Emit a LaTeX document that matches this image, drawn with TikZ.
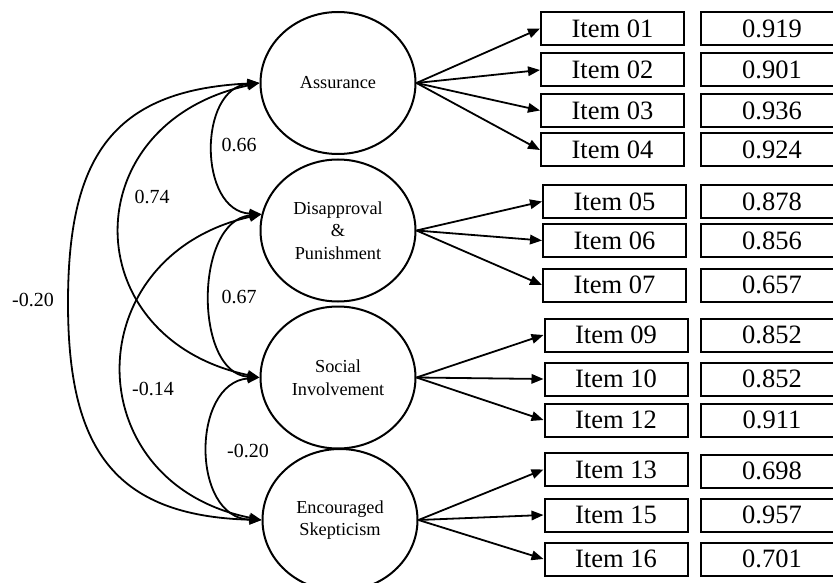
\documentclass[tikz,border=0pt]{standalone}
\usepackage{fontspec}
\setmainfont{Liberation Serif}
\usetikzlibrary{arrows.meta,shapes.geometric}
\begin{document}
\begin{tikzpicture}[x=1pt,y=-1pt,
  lat/.style={ellipse,draw,line width=2pt,minimum width=155pt,minimum height=142pt,inner sep=0pt,align=center,font=\fontsize{18.3}{22.5}\selectfont},
  itembox/.style={draw,line width=2pt,minimum width=143pt,minimum height=33pt,inner sep=0pt,font=\fontsize{26.5}{30}\selectfont},
  valbox/.style={itembox,minimum width=142pt},
  bigtri/.tip={Triangle[length=12pt,width=9.5pt]},
  cor/.style={line width=1.8pt,bigtri-bigtri},
  load/.style={line width=1.8pt,-bigtri},
  lab/.style={font=\fontsize{20}{24}\selectfont,inner sep=0pt}]
\path[use as bounding box] (0,0) rectangle (833,583);
\clip (0,0) rectangle (833,583);

% latent variables
\node[lat] (ass) at (338,83) {Assurance};
\node[lat] (dis) at (338,230.5) {Disapproval\\\&\\Punishment};
\node[lat] (soc) at (338,377.5) {Social\\Involvement};
\node[lat] (enc) at (340,520) {Encouraged\\Skepticism};

% item boxes
\node[itembox] (i01) at (612.5,28.5) {Item 01};
\node[itembox] (i02) at (612.5,70) {Item 02};
\node[itembox] (i03) at (612.5,110.5) {Item 03};
\node[itembox] (i04) at (612.5,150) {Item 04};
\node[itembox] (i05) at (614.5,201.5) {Item 05};
\node[itembox] (i06) at (614.5,240.5) {Item 06};
\node[itembox] (i07) at (614.5,285) {Item 07};
\node[itembox] (i09) at (616,335) {Item 09};
\node[itembox] (i10) at (616,379) {Item 10};
\node[itembox] (i12) at (616,420) {Item 12};
\node[itembox] (i13) at (616,469.5) {Item 13};
\node[itembox] (i15) at (616,515) {Item 15};
\node[itembox] (i16) at (616,559) {Item 16};

% value boxes
\node[valbox] (v01) at (772,28.5) {0.919};
\node[valbox] (v02) at (772,70) {0.901};
\node[valbox] (v03) at (772,110.5) {0.936};
\node[valbox] (v04) at (772,150) {0.924};
\node[valbox] (v05) at (772,201.5) {0.878};
\node[valbox] (v06) at (772,240.5) {0.856};
\node[valbox] (v07) at (772,285) {0.657};
\node[valbox] (v09) at (772,335) {0.852};
\node[valbox] (v10) at (772,379) {0.852};
\node[valbox] (v12) at (772,420) {0.911};
\node[valbox] (v13) at (772,471) {0.698};
\node[valbox] (v15) at (772,515) {0.957};
\node[valbox] (v16) at (772,559) {0.701};

% loadings
\foreach \i in {i01,i02,i03,i04} \draw[load] (ass.east) -- (\i.west);
\foreach \i in {i05,i06,i07} \draw[load] (dis.east) -- (\i.west);
\foreach \i in {i09,i10,i12} \draw[load] (soc.east) -- (\i.west);
\foreach \i in {i13,i15,i16} \draw[load] (enc.east) -- (\i.west);

% correlations
\draw[cor] (ass.west) .. controls (198,88) and (198,211) .. (dis.168);
\draw[cor] (dis.168) .. controls (194,221) and (194,373) .. (soc.west);
\draw[cor] (soc.west) .. controls (191,383) and (191,518) .. (enc.west);
\draw[cor] (ass.west) .. controls (74,123) and (74,338) .. (soc.west);
\draw[cor] (dis.168) .. controls (76,256) and (76,483) .. (enc.west);
\draw[cor] (ass.west) .. controls (110,90) and (68,160) .. (68,303)
                      .. controls (68,446) and (112,516) .. (enc.west);

% correlation labels
\node[lab] (l1) at (239,145) {0.66};
\node[lab] (l2) at (152,197) {0.74};
\node[lab] (l3) at (33,300) {-0.20};
\node[lab] (l4) at (239,297) {0.67};
\node[lab] (l5) at (153,389) {-0.14};
\node[lab] (l6) at (248,451) {-0.20};
\end{tikzpicture}
\end{document}
